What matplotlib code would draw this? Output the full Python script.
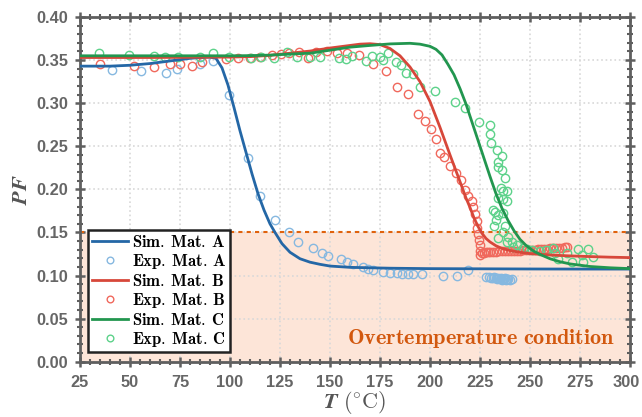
import matplotlib
matplotlib.use('Agg')
import matplotlib.pyplot as plt
import matplotlib.transforms as mtransforms
import numpy as np
from matplotlib.ticker import MultipleLocator

plt.rcParams['mathtext.fontset'] = 'cm'
plt.rcParams['font.family'] = ['Liberation Sans', 'DejaVu Sans']

# simulated curves
sim_a_t = [25, 40, 50, 60, 70, 80, 85, 90, 93, 96, 99, 102, 105, 108, 111, 114, 117, 120,
           122.5, 126, 130, 135, 140, 145, 150, 160, 170, 180, 200, 225, 250, 275, 300]
sim_a_pf = [0.343, 0.343, 0.344, 0.346, 0.349, 0.352, 0.353, 0.3535, 0.352, 0.341, 0.321, 0.295,
            0.268, 0.243, 0.218, 0.195, 0.176, 0.160, 0.150, 0.137, 0.127, 0.1195, 0.1155, 0.113,
            0.111, 0.1095, 0.109, 0.1085, 0.108, 0.1078, 0.1076, 0.1075, 0.1075]

sim_b_t = [25, 60, 100, 110, 120, 130, 140, 150, 160, 165, 170, 175, 180, 185, 190, 195, 200,
           205, 210, 215, 218, 220, 222, 224, 226, 228, 230, 233, 236, 240, 245, 250, 260, 270,
           280, 290, 300]
sim_b_pf = [0.353, 0.353, 0.3535, 0.354, 0.3555, 0.358, 0.3605, 0.364, 0.367, 0.3685, 0.369,
            0.368, 0.3635, 0.355, 0.342, 0.325, 0.302, 0.272, 0.240, 0.209, 0.190, 0.179, 0.167,
            0.157, 0.149, 0.143, 0.139, 0.1345, 0.1315, 0.129, 0.127, 0.1255, 0.1238, 0.1228,
            0.122, 0.1213, 0.1208]

sim_c_t = [25, 60, 100, 110, 120, 130, 140, 150, 160, 170, 180, 190, 195, 200, 203, 206, 209,
           212, 215, 218, 221, 224, 227, 230, 233, 236, 239, 242, 245, 248, 252, 256, 260, 265,
           270, 280, 290, 300]
sim_c_pf = [0.355, 0.355, 0.355, 0.3552, 0.3558, 0.357, 0.358, 0.3615, 0.365, 0.367, 0.3688,
            0.3695, 0.3685, 0.366, 0.3625, 0.356, 0.345, 0.333, 0.317, 0.299, 0.278, 0.257, 0.236,
            0.215, 0.195, 0.178, 0.164, 0.152, 0.142, 0.135, 0.128, 0.1235, 0.1195, 0.116, 0.1135,
            0.1105, 0.109, 0.108]

# experimental points
exp_a_t = [41, 55.7, 68, 73.7, 85, 91.3, 99.3, 109.2, 114.8, 122.5, 129.5, 134.2, 141.3, 145.8,
           149.2, 155.3, 158.7, 161.7, 166.5, 169.2, 171.7, 176.7, 180, 183.3, 186, 189.2, 191.7,
           196.2, 206.7, 213.7, 219, 228, 229.5, 230.5, 231.5, 232, 233, 233.5, 234, 235, 235.5,
           236, 236.5, 237, 237.5, 238, 238.5, 239, 240, 241]
exp_a_pf = [0.338, 0.337, 0.335, 0.340, 0.346, 0.349, 0.3095, 0.236, 0.192, 0.165, 0.150, 0.1386,
            0.1316, 0.1265, 0.1227, 0.119, 0.116, 0.113, 0.110, 0.108, 0.106, 0.1037, 0.103,
            0.1025, 0.1022, 0.102, 0.102, 0.1015, 0.0995, 0.0995, 0.1064, 0.0985, 0.098, 0.0975,
            0.0968, 0.0985, 0.097, 0.0955, 0.0975, 0.096, 0.0975, 0.095, 0.0965, 0.0955, 0.097,
            0.0945, 0.096, 0.0955, 0.095, 0.0955]

exp_b_t = [35, 52, 62, 70, 75, 81, 86, 98, 104, 110, 115, 121, 125.5, 129.5, 134.5, 139, 143,
           148.3, 153.7, 158.7, 164.5, 171.6, 178.2, 183.4, 189.2, 194, 197.3, 200.3, 203.2, 205.2,
           207, 210, 213, 215.5, 217.3, 219, 220.8, 221.7, 222.5, 223.3, 223.7, 224.2, 224.5,
           224.8, 225, 225.2, 226, 227, 228, 229, 230, 231.5, 233, 234.5, 236, 237.5, 239, 240.5,
           242, 243.5, 245, 246.5, 248, 249.5, 251, 252.5, 254, 255.5, 257, 258.5, 260, 261.5,
           263, 264.5, 266, 267.5, 268.5]
exp_b_pf = [0.346, 0.3435, 0.342, 0.3455, 0.346, 0.343, 0.348, 0.351, 0.352, 0.353, 0.354, 0.356,
            0.357, 0.3586, 0.3594, 0.352, 0.3594, 0.360, 0.358, 0.358, 0.356, 0.345, 0.3375,
            0.3187, 0.311, 0.2878, 0.279, 0.270, 0.2584, 0.2422, 0.237, 0.2268, 0.219, 0.211,
            0.199, 0.192, 0.186, 0.180, 0.171, 0.163, 0.155, 0.148, 0.141, 0.135, 0.129, 0.124,
            0.126, 0.1265, 0.127, 0.127, 0.1272, 0.1275, 0.1278, 0.128, 0.128, 0.1282, 0.1285,
            0.1285, 0.1288, 0.129, 0.129, 0.1292, 0.1295, 0.1298, 0.130, 0.1302, 0.1305, 0.1308,
            0.131, 0.1312, 0.1315, 0.1318, 0.132, 0.1322, 0.1325, 0.1328, 0.133]

exp_c_t = [34.7, 49.3, 61.8, 67.3, 73.8, 85, 91.3, 99.3, 110.3, 115.3, 122, 128.7, 133.5, 140,
           145, 154.5, 157.8, 161, 168, 170.8, 174.8, 176.7, 179.2, 183, 185.3, 187.8, 191.3, 195,
           202.5, 212.5, 217.7, 224.7, 230.2, 230.2, 230.7, 233.3, 236.2, 234.2, 234.2, 236.2,
           237.5, 235.5, 236.7, 238.7, 233.8, 236.3, 238.3, 231.7, 232.5, 234.2, 236.7, 233,
           232.2, 237.5, 236.7, 239.2, 240.8, 243.3, 246.7, 250.8, 255, 258, 261.7, 262.5, 263.8,
           268.3, 270.8, 273.8, 276.3, 275.8, 278.8, 281.3, 234.2, 238.3, 241.7, 248.3]
exp_c_pf = [0.358, 0.356, 0.3548, 0.354, 0.354, 0.354, 0.3586, 0.354, 0.353, 0.354, 0.3528,
            0.3595, 0.3535, 0.354, 0.354, 0.3528, 0.351, 0.355, 0.3495, 0.3548, 0.354, 0.3497,
            0.358, 0.348, 0.3447, 0.335, 0.334, 0.319, 0.314, 0.301, 0.2948, 0.2778, 0.2747,
            0.2642, 0.2535, 0.2457, 0.2387, 0.232, 0.2263, 0.2225, 0.2128, 0.2019, 0.1984, 0.198,
            0.1896, 0.1885, 0.1865, 0.176, 0.174, 0.170, 0.172, 0.165, 0.1575, 0.1575, 0.151,
            0.145, 0.139, 0.1354, 0.1316, 0.1296, 0.1288, 0.130, 0.1316, 0.1258, 0.1188, 0.1265,
            0.116, 0.1308, 0.116, 0.1238, 0.1308, 0.122, 0.143, 0.139, 0.1335, 0.1304]

pf_limit = 0.15

fig = plt.figure(figsize=(6.42, 4.17), dpi=100)
ax = fig.add_axes([0.1246, 0.1326, 0.8567, 0.8266])

gray = '#5f5f5f'

ax.axhspan(0, pf_limit, color='#fde5d8', zorder=0.1, lw=0)
ax.axhline(pf_limit, color='#e0620d', lw=1.5, ls=(0, (2, 2)), zorder=1)

ax.plot(sim_a_t, sim_a_pf, color='#2467a6', lw=2, label=r'$\mathbf{Sim.\:Mat.\:A}$', zorder=3)
ax.plot(exp_a_t, exp_a_pf, 'o', mfc='none', mec='#86b8e0', ms=6, mew=1,
        label=r'$\mathbf{Exp.\:Mat.\:A}$', zorder=2)
ax.plot(sim_b_t, sim_b_pf, color='#d7473a', lw=2, label=r'$\mathbf{Sim.\:Mat.\:B}$', zorder=3)
ax.plot(exp_b_t, exp_b_pf, 'o', mfc='none', mec='#f0685c', ms=6, mew=1,
        label=r'$\mathbf{Exp.\:Mat.\:B}$', zorder=2)
ax.plot(sim_c_t, sim_c_pf, color='#22964f', lw=2, label=r'$\mathbf{Sim.\:Mat.\:C}$', zorder=3)
ax.plot(exp_c_t, exp_c_pf, 'o', mfc='none', mec='#5dd28a', ms=6, mew=1,
        label=r'$\mathbf{Exp.\:Mat.\:C}$', zorder=2)

ax.text(225.5, 0.027, r'$\mathbf{Overtemperature\ condition}$', color='#d2580f',
        fontsize=16, ha='center', va='center')

ax.set_xlim(25, 300)
ax.set_ylim(0, 0.40)
ax.xaxis.set_major_locator(MultipleLocator(25))
ax.xaxis.set_minor_locator(MultipleLocator(5))
ax.yaxis.set_major_locator(MultipleLocator(0.05))
ax.yaxis.set_minor_locator(MultipleLocator(0.01))
ax.yaxis.set_major_formatter(matplotlib.ticker.FormatStrFormatter('%.2f'))

ax.set_axisbelow(True)
ax.grid(True, which='major', color='#d8d8d8', ls=':', lw=1.2)

for s in ax.spines.values():
    s.set_color(gray)
    s.set_linewidth(2)
ax.tick_params(which='both', direction='inout', top=True, right=True, color=gray,
               labelcolor='#666666')
ax.tick_params(which='major', length=7, width=1.8, labelsize=11.8)
ax.tick_params(axis='x', which='major', pad=6)
ax.tick_params(axis='y', which='major', pad=5)
ax.tick_params(which='minor', length=4, width=1.5)

ax.set_xlabel(r'$\boldsymbol{T}\ (^{\circ}\mathrm{C})$', fontsize=16, color='#555555', labelpad=-1)
ax.set_ylabel(r'$\boldsymbol{PF}$', fontsize=16, color='#555555', labelpad=3)

leg = ax.legend(loc='lower left', bbox_to_anchor=(0.015, 0.028), borderaxespad=0,
                fontsize=12, frameon=True, fancybox=False, framealpha=1,
                edgecolor='#222222', handlelength=2.2, handletextpad=0.2,
                labelspacing=0.12, borderpad=0.2, markerscale=0.8)
leg.get_frame().set_linewidth(1.8)

fig.canvas.draw()
for tick in ax.xaxis.get_major_ticks() + ax.yaxis.get_major_ticks():
    tick.label1.set_fontweight('bold')
# keep the 300 label inside the canvas
for tick in ax.xaxis.get_major_ticks():
    if abs(tick.get_loc() - 300) < 1e-6:
        tick.label1.set_transform(tick.label1.get_transform() +
                                  mtransforms.ScaledTranslation(-3 / 72, 0, fig.dpi_scale_trans))

fig.savefig('out.png', dpi=100)
